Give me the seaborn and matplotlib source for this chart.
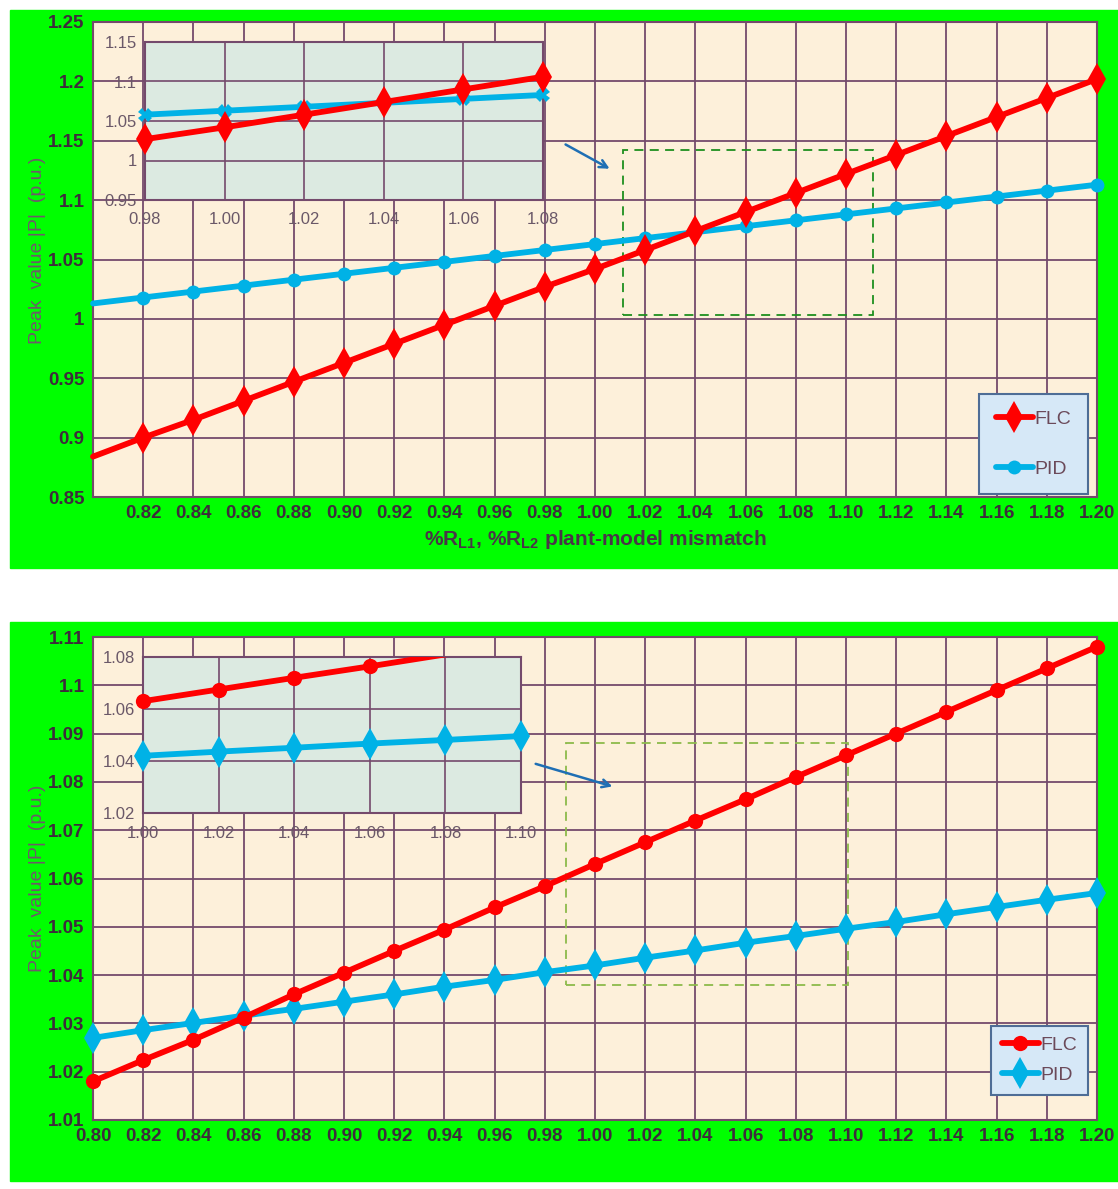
import numpy as np
import pandas as pd
import matplotlib
matplotlib.use("Agg")
import matplotlib.pyplot as plt
import seaborn as sns
from matplotlib.patches import Rectangle
from matplotlib.lines import Line2D
from matplotlib.ticker import FixedLocator, FixedFormatter

# ---------------- data ----------------
mismatch = [0.80, 0.82, 0.84, 0.86, 0.88, 0.90, 0.92, 0.94, 0.96, 0.98, 1.00,
            1.02, 1.04, 1.06, 1.08, 1.10, 1.12, 1.14, 1.16, 1.18, 1.20]

top_flc = [0.884, 0.900, 0.915, 0.931, 0.947, 0.963, 0.979, 0.995, 1.011, 1.027, 1.042,
           1.058, 1.074, 1.090, 1.106, 1.122, 1.138, 1.154, 1.170, 1.186, 1.202]
top_pid = [1.013, 1.018, 1.023, 1.028, 1.033, 1.038, 1.043, 1.048, 1.053, 1.058, 1.063,
           1.068, 1.073, 1.078, 1.083, 1.088, 1.093, 1.098, 1.103, 1.108, 1.113]

bot_flc = [1.018, 1.0224, 1.0266, 1.0312, 1.036, 1.0405, 1.045, 1.0494, 1.054, 1.0584, 1.063,
           1.0675, 1.072, 1.0764, 1.081, 1.0855, 1.090, 1.0945, 1.099, 1.1035, 1.108]
bot_pid = [1.027, 1.0286, 1.0301, 1.0316, 1.033, 1.0345, 1.036, 1.0376, 1.039, 1.0406, 1.042,
           1.0436, 1.0451, 1.0467, 1.0481, 1.0496, 1.051, 1.0526, 1.0541, 1.0556, 1.057]

top_yticks = [0.85, 0.90, 0.95, 1.00, 1.05, 1.10, 1.15, 1.20, 1.25]
bot_yticks = [1.01, 1.02, 1.03, 1.04, 1.05, 1.06, 1.07, 1.08, 1.09, 1.10, 1.11]

top_inset_xticks = [0.98, 1.00, 1.02, 1.04, 1.06, 1.08]
top_inset_yticks = [0.95, 1.00, 1.05, 1.10, 1.15]
bot_inset_xticks = [1.00, 1.02, 1.04, 1.06, 1.08, 1.10]
bot_inset_yticks = [1.02, 1.04, 1.06, 1.08]

series_names = ["FLC", "PID"]
ylabel_text = "Peak  value |P|  (p.u.)"
xlabel_text = r"%R$_{\mathbf{L1}}$, %R$_{\mathbf{L2}}$ plant-model mismatch"

df_top = pd.DataFrame({"x": mismatch, "FLC": top_flc, "PID": top_pid})
df_bot = pd.DataFrame({"x": mismatch, "FLC": bot_flc, "PID": bot_pid})

# ---------------- style ----------------
sns.set_style("white")
plt.rcParams["font.family"] = ["Liberation Sans", "DejaVu Sans"]
plt.rcParams["mathtext.fontset"] = "custom"
plt.rcParams["mathtext.rm"] = "Liberation Sans"
plt.rcParams["mathtext.bf"] = "Liberation Sans:bold"

GREEN = "#00FF00"
BG = "#FDF0DA"
INSET_BG = "#DCEAE1"
GRID = "#744A6C"
RED = "#FF0000"
CYAN = "#00B2E6"
TICKC = "#3E2C3C"
INSETC = "#6A5868"

W, H = 1118, 1189
fig = plt.figure(figsize=(W / 100, H / 100), dpi=100)
fig.patch.set_facecolor("white")


def px_axes(x0, y0, x1, y1, **kw):
    return fig.add_axes([x0 / W, 1 - y1 / H, (x1 - x0) / W, (y1 - y0) / H], **kw)


# green panels
fig.add_artist(Rectangle((10 / W, 1 - 568 / H), (W - 10) / W, (568 - 10) / H,
                         transform=fig.transFigure, color=GREEN, zorder=-10))
fig.add_artist(Rectangle((10 / W, 1 - 1181 / H), (W - 10) / W, (1181 - 622) / H,
                         transform=fig.transFigure, color=GREEN, zorder=-10))


def style_main(ax, yticks, xlabels, ylab_y):
    ax.set_facecolor(BG)
    ax.set_xlim(mismatch[0], mismatch[-1])
    ax.set_ylim(yticks[0], yticks[-1])
    ax.xaxis.set_major_locator(FixedLocator(mismatch))
    ax.xaxis.set_major_formatter(FixedFormatter(xlabels))
    ax.yaxis.set_major_locator(FixedLocator(yticks))
    ax.yaxis.set_major_formatter(FixedFormatter([f"{v:g}" for v in yticks]))
    ax.grid(True, color=GRID, lw=1.3)
    ax.set_axisbelow(True)
    ax.tick_params(length=0, labelsize=13.5, labelcolor=TICKC, pad=6)
    for lab in ax.get_xticklabels() + ax.get_yticklabels():
        lab.set_fontweight("bold")
    for s in ax.spines.values():
        s.set_color(GRID)
        s.set_linewidth(1.5)
    ax.set_ylabel(ylabel_text, fontsize=14, color="#6E5A6A")
    ax.yaxis.set_label_coords(-0.047, ylab_y)
    ax.set_xlabel("")


def style_inset(ax, xticks, yticks):
    ax.set_facecolor(INSET_BG)
    ax.set_xlim(xticks[0], xticks[-1])
    ax.set_ylim(yticks[0], yticks[-1])
    ax.xaxis.set_major_locator(FixedLocator(xticks))
    ax.xaxis.set_major_formatter(FixedFormatter([f"{v:.2f}" for v in xticks]))
    ax.yaxis.set_major_locator(FixedLocator(yticks))
    ax.yaxis.set_major_formatter(FixedFormatter([f"{v:g}" for v in yticks]))
    ax.grid(True, color=GRID, lw=1.2)
    ax.set_axisbelow(True)
    ax.tick_params(axis="x", length=0, labelsize=12, labelcolor=INSETC, pad=9)
    ax.tick_params(axis="y", length=4, color=GRID, labelsize=12, labelcolor=INSETC, pad=2)
    for s in ax.spines.values():
        s.set_color(GRID)
        s.set_linewidth(1.5)
    ax.set_xlabel("")
    ax.set_ylabel("")


# ================= TOP CHART =================
ax1 = px_axes(93, 22, 1097, 497)
sns.lineplot(data=df_top, x="x", y="FLC", ax=ax1, color=RED, lw=4.2, marker="d",
             markersize=16, markeredgewidth=0, markevery=list(range(1, len(mismatch))),
             clip_on=False, zorder=4)
sns.lineplot(data=df_top, x="x", y="PID", ax=ax1, color=CYAN, lw=4.2, marker="o",
             markersize=10, markeredgewidth=0, markevery=list(range(1, len(mismatch))),
             clip_on=False, zorder=3)
style_main(ax1, top_yticks, [""] + [f"{v:.2f}" for v in mismatch[1:]], 0.52)
ax1.set_xlabel(xlabel_text, fontsize=15, fontweight="bold", color="#4A3548", labelpad=4)

ax1.add_patch(Rectangle((1.0112, 1.003), 0.0994, 0.139, fill=False, ls=(0, (5, 3.5)),
                        ec="#1E8F1E", lw=1.3, zorder=2))
ax1.annotate("", xy=(1.0068, 1.1253), xytext=(0.9873, 1.148),
             arrowprops=dict(arrowstyle="->", color="#1F6FB4", lw=1.8, mutation_scale=14))

h_top = [Line2D([], [], color=RED, lw=4.2, marker="d", markersize=16, markeredgewidth=0),
         Line2D([], [], color=CYAN, lw=4.2, marker="o", markersize=10, markeredgewidth=0)]
leg1 = ax1.legend(h_top, series_names, loc="lower right", bbox_to_anchor=(0.991, 0.006),
                  fontsize=14, labelspacing=1.65, handlelength=1.9, handletextpad=0.1,
                  borderpad=0.85, fancybox=False, framealpha=1, facecolor="#D6E8F7",
                  edgecolor="#4E6D96", labelcolor="#6B4A5A", borderaxespad=0)
leg1.get_frame().set_linewidth(1.5)

# top inset
in1 = px_axes(145, 42, 543, 200)
in1_mask = [(x >= top_inset_xticks[0] - 1e-9) and (x <= top_inset_xticks[-1] + 1e-9) for x in mismatch]
df_in1 = df_top[in1_mask]
sns.lineplot(data=df_in1, x="x", y="PID", ax=in1, color=CYAN, lw=4.2, marker="X",
             markersize=10, markeredgewidth=0, clip_on=False, zorder=3)
sns.lineplot(data=df_in1, x="x", y="FLC", ax=in1, color=RED, lw=4.2, marker="d",
             markersize=16, markeredgewidth=0, clip_on=False, zorder=4)
style_inset(in1, top_inset_xticks, top_inset_yticks)

# ================= BOTTOM CHART =================
ax2 = px_axes(93, 637, 1097, 1120)
sns.lineplot(data=df_bot, x="x", y="FLC", ax=ax2, color=RED, lw=4.2, marker="o",
             markersize=11, markeredgewidth=0, clip_on=False, zorder=4)
sns.lineplot(data=df_bot, x="x", y="PID", ax=ax2, color=CYAN, lw=4.2, marker="d",
             markersize=16, markeredgewidth=0, clip_on=False, zorder=3)
style_main(ax2, bot_yticks, [f"{v:.2f}" for v in mismatch], 0.5)

ax2.add_patch(Rectangle((0.9884, 1.0380), 0.1122, 0.0501, fill=False, ls=(0, (5, 3.5)),
                        ec="#8DBA4A", lw=1.3, zorder=2))
ax2.annotate("", xy=(1.008, 1.0789), xytext=(0.9753, 1.0839),
             arrowprops=dict(arrowstyle="->", color="#1F6FB4", lw=1.8, mutation_scale=14))

h_bot = [Line2D([], [], color=RED, lw=4.2, marker="o", markersize=11, markeredgewidth=0),
         Line2D([], [], color=CYAN, lw=4.2, marker="d", markersize=16, markeredgewidth=0)]
leg2 = ax2.legend(h_bot, series_names, loc="lower right", bbox_to_anchor=(0.991, 0.052),
                  fontsize=14, labelspacing=0.65, handlelength=1.9, handletextpad=0.1,
                  borderpad=0.55, fancybox=False, framealpha=1, facecolor="#D6E8F7",
                  edgecolor="#4E6D96", labelcolor="#6B4A5A", borderaxespad=0)
leg2.get_frame().set_linewidth(1.5)

# bottom inset
in2 = px_axes(143, 657, 521, 813)
in2_mask = [(x >= bot_inset_xticks[0] - 1e-9) and (x <= bot_inset_xticks[-1] + 1e-9) for x in mismatch]
df_in2 = df_bot[in2_mask]
# lines (clipped to inset)
sns.lineplot(data=df_in2, x="x", y="FLC", ax=in2, color=RED, lw=4.2, zorder=4)
sns.lineplot(data=df_in2, x="x", y="PID", ax=in2, color=CYAN, lw=4.2, zorder=3)
# markers for points inside the inset window (not clipped at the frame)
ylo, yhi = bot_inset_yticks[0], bot_inset_yticks[-1]
df_in2_flc = df_in2[(df_in2["FLC"] >= ylo) & (df_in2["FLC"] <= yhi)]
sns.lineplot(data=df_in2_flc, x="x", y="FLC", ax=in2, color=RED, lw=0, marker="o",
             markersize=11, markeredgewidth=0, clip_on=False, zorder=5)
sns.lineplot(data=df_in2, x="x", y="PID", ax=in2, color=CYAN, lw=0, marker="d",
             markersize=16, markeredgewidth=0, clip_on=False, zorder=5)
style_inset(in2, bot_inset_xticks, bot_inset_yticks)

fig.savefig("out.png", dpi=100, facecolor="white")
